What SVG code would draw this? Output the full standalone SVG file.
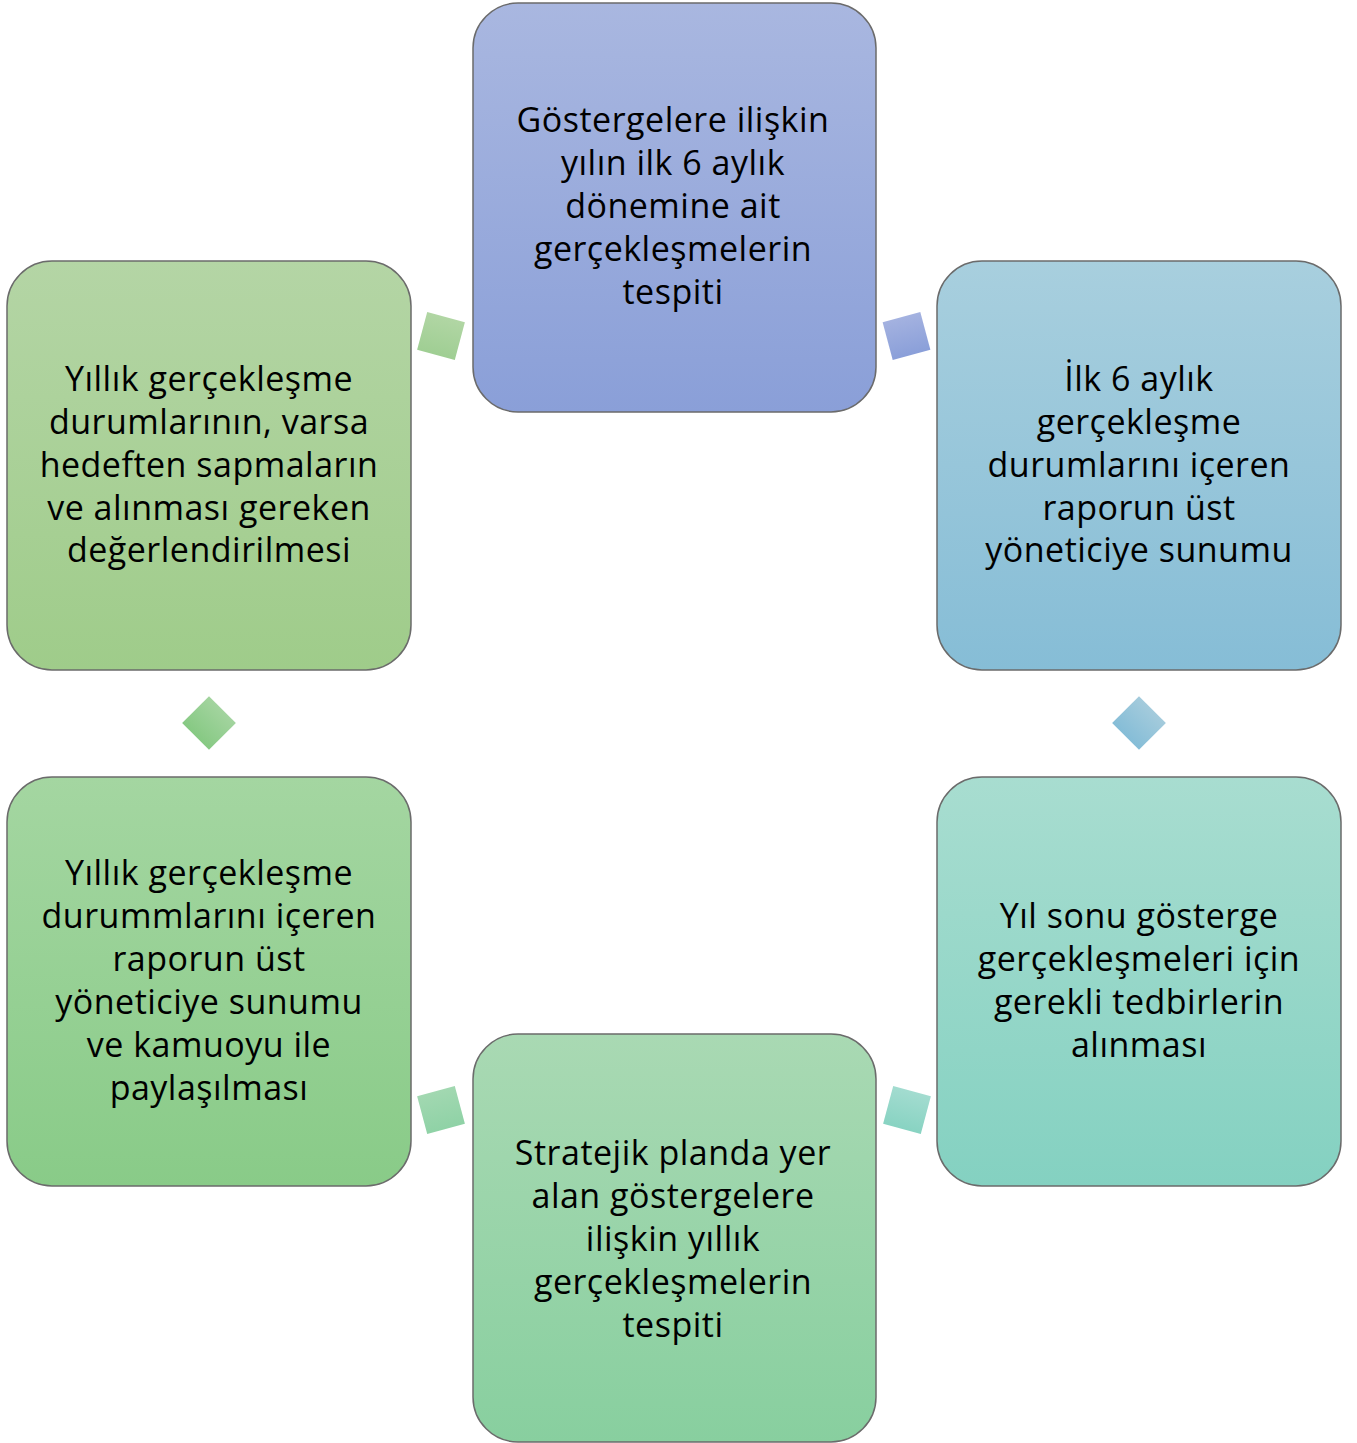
<svg xmlns="http://www.w3.org/2000/svg" width="1357" height="1443" viewBox="0 0 1357 1443">
<defs>
<linearGradient id="gTop" x1="0" y1="0" x2="0" y2="1"><stop offset="0" stop-color="#a9b7e0"/><stop offset="1" stop-color="#8a9fd8"/></linearGradient>
<linearGradient id="gRU" x1="0" y1="0" x2="0" y2="1"><stop offset="0" stop-color="#a8cfde"/><stop offset="1" stop-color="#86bdd6"/></linearGradient>
<linearGradient id="gRL" x1="0" y1="0" x2="0" y2="1"><stop offset="0" stop-color="#a8ddd0"/><stop offset="1" stop-color="#84d1c1"/></linearGradient>
<linearGradient id="gB" x1="0" y1="0" x2="0" y2="1"><stop offset="0" stop-color="#a9d9b3"/><stop offset="1" stop-color="#88cf9f"/></linearGradient>
<linearGradient id="gLL" x1="0" y1="0" x2="0" y2="1"><stop offset="0" stop-color="#a4d6a1"/><stop offset="1" stop-color="#89cb88"/></linearGradient>
<linearGradient id="gLU" x1="0" y1="0" x2="0" y2="1"><stop offset="0" stop-color="#b4d5a5"/><stop offset="1" stop-color="#9fcc8a"/></linearGradient>
<linearGradient id="cTL" x1="0" y1="0" x2="0" y2="1"><stop offset="0" stop-color="#b1d6a4"/><stop offset="1" stop-color="#9fce93"/></linearGradient>
<linearGradient id="cTR" x1="0" y1="0" x2="0" y2="1"><stop offset="0" stop-color="#a4b2e0"/><stop offset="1" stop-color="#8a9fd9"/></linearGradient>
<linearGradient id="cL" x1="0" y1="0" x2="0" y2="1"><stop offset="0" stop-color="#a3d49f"/><stop offset="1" stop-color="#86c983"/></linearGradient>
<linearGradient id="cR" x1="0" y1="0" x2="0" y2="1"><stop offset="0" stop-color="#a4cbdc"/><stop offset="1" stop-color="#85bdd7"/></linearGradient>
<linearGradient id="cBL" x1="0" y1="0" x2="0" y2="1"><stop offset="0" stop-color="#a2d8b1"/><stop offset="1" stop-color="#8fd2a6"/></linearGradient>
<linearGradient id="cBR" x1="0" y1="0" x2="0" y2="1"><stop offset="0" stop-color="#a3dcd0"/><stop offset="1" stop-color="#88d3c2"/></linearGradient>
</defs>
<style>
.box{stroke:#6b6b6b;stroke-width:1.5}
.t{font-family:"Open Sans","Noto Sans","Liberation Sans",sans-serif;font-size:34px;letter-spacing:0.5px;fill:#000;text-anchor:middle}
</style>
<g id="connectors">
<rect x="-19.5" y="-19.5" width="39" height="39" fill="url(#cTL)" transform="translate(441,336) rotate(15)"/>
<rect x="-19.5" y="-19.5" width="39" height="39" fill="url(#cTR)" transform="translate(906.5,336) rotate(-15)"/>
<rect x="-19" y="-19" width="38" height="38" fill="url(#cR)" transform="translate(1139,723) rotate(45)"/>
<rect x="-19.5" y="-19.5" width="39" height="39" fill="url(#cBR)" transform="translate(907,1110) rotate(15)"/>
<rect x="-19.5" y="-19.5" width="39" height="39" fill="url(#cBL)" transform="translate(441,1110) rotate(-15)"/>
<rect x="-19" y="-19" width="38" height="38" fill="url(#cL)" transform="translate(209,723) rotate(45)"/>
</g>
<g id="node-top">
<rect class="box" x="473" y="3" width="403" height="409" rx="45" fill="url(#gTop)"/>
<text class="t" x="673" y="132">Göstergelere ilişkin</text>
<text class="t" x="673" y="175">yılın ilk 6 aylık</text>
<text class="t" x="673" y="218">dönemine ait</text>
<text class="t" x="673" y="261">gerçekleşmelerin</text>
<text class="t" x="673" y="304">tespiti</text>
</g>
<g id="node-right-upper">
<rect class="box" x="937" y="261" width="404" height="409" rx="45" fill="url(#gRU)"/>
<text class="t" x="1139" y="391">İlk 6 aylık</text>
<text class="t" x="1139" y="434">gerçekleşme</text>
<text class="t" x="1139" y="477">durumlarını içeren</text>
<text class="t" x="1139" y="520">raporun üst</text>
<text class="t" x="1139" y="562">yöneticiye sunumu</text>
</g>
<g id="node-right-lower">
<rect class="box" x="937" y="777" width="404" height="409" rx="45" fill="url(#gRL)"/>
<text class="t" x="1139" y="928">Yıl sonu gösterge</text>
<text class="t" x="1139" y="971">gerçekleşmeleri için</text>
<text class="t" x="1139" y="1014">gerekli tedbirlerin</text>
<text class="t" x="1139" y="1057">alınması</text>
</g>
<g id="node-bottom">
<rect class="box" x="473" y="1034" width="403" height="408" rx="45" fill="url(#gB)"/>
<text class="t" x="673" y="1165">Stratejik planda yer</text>
<text class="t" x="673" y="1208">alan göstergelere</text>
<text class="t" x="673" y="1251">ilişkin yıllık</text>
<text class="t" x="673" y="1294">gerçekleşmelerin</text>
<text class="t" x="673" y="1337">tespiti</text>
</g>
<g id="node-left-lower">
<rect class="box" x="7" y="777" width="404" height="409" rx="45" fill="url(#gLL)"/>
<text class="t" x="209" y="885">Yıllık gerçekleşme</text>
<text class="t" x="209" y="928">durummlarını içeren</text>
<text class="t" x="209" y="971">raporun üst</text>
<text class="t" x="209" y="1014">yöneticiye sunumu</text>
<text class="t" x="209" y="1057">ve kamuoyu ile</text>
<text class="t" x="209" y="1100">paylaşılması</text>
</g>
<g id="node-left-upper">
<rect class="box" x="7" y="261" width="404" height="409" rx="45" fill="url(#gLU)"/>
<text class="t" x="209" y="391">Yıllık gerçekleşme</text>
<text class="t" x="209" y="434">durumlarının, varsa</text>
<text class="t" x="209" y="477">hedeften sapmaların</text>
<text class="t" x="209" y="520">ve alınması gereken</text>
<text class="t" x="209" y="562">değerlendirilmesi</text>
</g>
</svg>
